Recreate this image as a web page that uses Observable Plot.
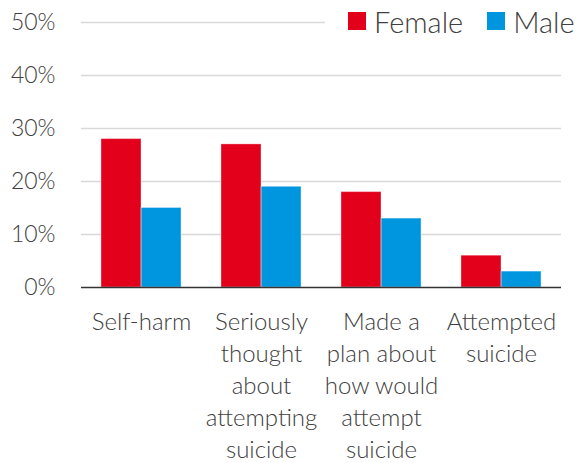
<!DOCTYPE html>
<html>
<head>
<meta charset="utf-8">
<script src="https://cdn.jsdelivr.net/npm/d3@7"></script>
<script src="https://cdn.jsdelivr.net/npm/@observablehq/plot@0.6"></script>
<style>
  html, body { margin: 0; padding: 0; background: #fff; }
  #chart { position: relative; width: 581px; height: 463px; font-family: Lato, "Open Sans", sans-serif; font-weight: 300; }
  #chart svg { font-family: Lato, "Open Sans", sans-serif; font-weight: 300; }
  .legend { position: absolute; top: 0; left: 325px; width: 256px; height: 42px; background: #fff;
            display: flex; align-items: center; padding-left: 23px; box-sizing: border-box;
            font-size: 29px; color: #404040; }
  .legend .item { display: flex; align-items: center; margin-right: 24px; }
  .legend .swatch { width: 18px; height: 18px; margin-right: 8px; }
</style>
</head>
<body>
<div id="chart"></div>
<script>
// Share of students reporting each behaviour, by sex (%)
const categories = ["Self-harm", "Seriously thought about attempting suicide", "Made a plan about how would attempt suicide", "Attempted suicide"];
const categoryLabels = ["Self-harm", "Seriously\nthought\nabout\nattempting\nsuicide", "Made a\nplan about\nhow would\nattempt\nsuicide", "Attempted\nsuicide"];
const sexes = ["Female", "Male"];
const sexColors = ["#E2001A", "#0096DF"];
const femaleValues = [28, 27, 18, 6];
const maleValues = [15, 19, 13, 3];
const yTicks = [0, 10, 20, 30, 40, 50];

const rows = categories.flatMap((category, i) => [
  {category, sex: "Female", value: femaleValues[i]},
  {category, sex: "Male", value: maleValues[i]}
]);
const labelRows = categories.map((category, i) => ({category, label: categoryLabels[i]}));

const plot = Plot.plot({
  width: 581,
  height: 463,
  marginLeft: 81,
  marginRight: 20,
  marginTop: 22,
  marginBottom: 176,
  style: {background: "transparent", color: "#404040"},
  fx: {domain: categories, padding: 0, axis: null},
  x: {domain: sexes, paddingInner: 0, paddingOuter: 0.5, axis: null},
  y: {domain: [0, 50], ticks: yTicks, tickFormat: d => d + "%", label: null},
  color: {domain: sexes, range: sexColors},
  marks: [
    Plot.ruleY(yTicks.filter(t => t > 0), {stroke: "#D9D9D9", strokeWidth: 1.5}),
    Plot.axisY({ticks: yTicks, tickFormat: d => d + "%", tickSize: 0, tickPadding: 26, fontSize: 23, fill: "#404040", label: null}),
    Plot.barY(rows, {fx: "category", x: "sex", y: "value", fill: "sex", inset: 0}),
    Plot.barY(rows, {fx: "category", x: "sex", y: "value", fill: "none", stroke: "white", strokeOpacity: 0.35, strokeWidth: 1, inset: 0}),
    Plot.ruleY([0], {stroke: "#333333", strokeWidth: 1.5}),
    Plot.text(labelRows, {fx: "category", text: "label", frameAnchor: "bottom", lineAnchor: "top", dy: 20,
      lineHeight: 1.33, fontSize: 24, fill: "#404040"})
  ]
});

const chart = document.getElementById("chart");
chart.appendChild(plot);

// Legend drawn over the top-right corner of the plot
const legend = document.createElement("div");
legend.className = "legend";
sexes.forEach((s, i) => {
  const item = document.createElement("div");
  item.className = "item";
  const sw = document.createElement("span");
  sw.className = "swatch";
  sw.style.background = sexColors[i];
  const label = document.createElement("span");
  label.textContent = s;
  item.appendChild(sw);
  item.appendChild(label);
  legend.appendChild(item);
});
chart.appendChild(legend);
</script>
</body>
</html>
